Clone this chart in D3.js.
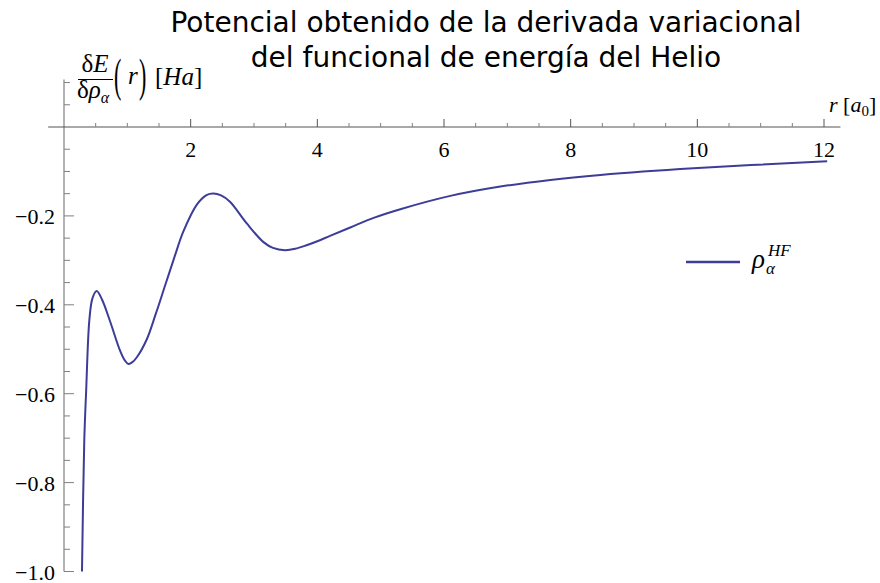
<!DOCTYPE html>
<html>
<head>
<meta charset="utf-8">
<script src="https://cdn.jsdelivr.net/npm/d3@7"></script>
<style>
  body { margin: 0; background: #fff; }
  svg { display: block; }
  .tick-label { font-family: "Liberation Serif", "DejaVu Serif", serif; font-size: 22px; fill: #000; }
  .math { font-family: "Liberation Serif", serif; font-style: italic; fill: #000; }
</style>
</head>
<body>
<svg id="chart" width="880" height="583"></svg>
<script>
// curve: r in Bohr radii, potential in Hartree
var radius = [0.284, 0.32, 0.35, 0.40, 0.45, 0.516, 0.60, 0.727, 0.885, 0.96, 1.016, 1.08, 1.15, 1.306,
  1.45, 1.60, 1.75, 1.885, 2.10, 2.25, 2.36, 2.48, 2.62, 2.886, 3.15, 3.30, 3.49, 3.65, 3.83,
  4.00, 4.20, 4.52, 4.90, 5.31, 6.10, 6.89, 7.68, 8.47, 9.94, 12.05];
var potential = [-1.0, -0.706, -0.593, -0.435, -0.385, -0.369, -0.388, -0.437, -0.503, -0.525, -0.533,
  -0.529, -0.518, -0.478, -0.42, -0.355, -0.29, -0.235, -0.174, -0.153, -0.1495, -0.154, -0.168, -0.217,
  -0.259, -0.272, -0.277, -0.274, -0.266, -0.257, -0.245, -0.226, -0.204, -0.185, -0.155, -0.134,
  -0.119, -0.108, -0.093, -0.077];
var xTicks = [2, 4, 6, 8, 10, 12];
var yTicks = [-0.2, -0.4, -0.6, -0.8, -1.0];
var titleLines = ["Potencial obtenido de la derivada variacional", "del funcional de energía del Helio"];

var blue = "#3d3d99", axisGray = "#808080";

var svg = d3.select("#chart");

var x = d3.scaleLinear().domain([0, 12]).range([64, 824]);
var y = d3.scaleLinear().domain([0, -1]).range([127, 571.5]);

// y axis line and ticks (pointing right)
svg.append("line")
  .attr("x1", x(0)).attr("x2", x(0))
  .attr("y1", y(0.107)).attr("y2", y(-1.0))
  .attr("stroke", axisGray).attr("stroke-width", 1.2);

var yMinor = d3.range(-20, 3).map(function (i) { return i * 0.05; })
  .filter(function (v) { return Math.abs(Math.round(v * 5) - v * 5) > 1e-6; });

svg.selectAll(".ymin").data(yMinor).enter().append("line")
  .attr("x1", x(0)).attr("x2", x(0) + 6)
  .attr("y1", function (d) { return y(d); }).attr("y2", function (d) { return y(d); })
  .attr("stroke", axisGray);

svg.selectAll(".ymaj").data(yTicks).enter().append("line")
  .attr("x1", x(0)).attr("x2", x(0) + 10)
  .attr("y1", function (d) { return y(d); }).attr("y2", function (d) { return y(d); })
  .attr("stroke", axisGray);

svg.selectAll(".ylab").data(yTicks).enter().append("text")
  .attr("class", "tick-label")
  .attr("x", x(0) - 9).attr("y", function (d) { return y(d) + 8; })
  .attr("text-anchor", "end")
  .text(function (d) { return "\u2212" + Math.abs(d).toFixed(1); });

// x axis line and ticks (pointing up)
svg.append("line")
  .attr("x1", x(-0.25)).attr("x2", x(12.26))
  .attr("y1", y(0)).attr("y2", y(0))
  .attr("stroke", "#555").attr("stroke-width", 1.2);

var xMinor = d3.range(1, 25).map(function (i) { return i * 0.5; })
  .filter(function (v) { return v % 2 !== 0; });

svg.selectAll(".xmin").data(xMinor).enter().append("line")
  .attr("x1", function (d) { return x(d); }).attr("x2", function (d) { return x(d); })
  .attr("y1", y(0)).attr("y2", y(0) - 4)
  .attr("stroke", axisGray);

svg.selectAll(".xmaj").data(xTicks).enter().append("line")
  .attr("x1", function (d) { return x(d); }).attr("x2", function (d) { return x(d); })
  .attr("y1", y(0)).attr("y2", y(0) - 8)
  .attr("stroke", "#555");

svg.selectAll(".xlab").data(xTicks).enter().append("text")
  .attr("class", "tick-label")
  .attr("x", function (d) { return x(d); }).attr("y", y(0) + 30)
  .attr("text-anchor", "middle")
  .text(function (d) { return d; });

// the curve
var pts = radius.map(function (r, i) { return [r, potential[i]]; });
var line = d3.line()
  .x(function (d) { return x(d[0]); })
  .y(function (d) { return y(d[1]); })
  .curve(d3.curveCatmullRom.alpha(0.5));

svg.append("path")
  .datum(pts)
  .attr("d", line)
  .attr("fill", "none")
  .attr("stroke", blue)
  .attr("stroke-width", 2);

// title
svg.append("text")
  .attr("x", 486).attr("y", 32)
  .attr("text-anchor", "middle")
  .style("font-family", "DejaVu Sans, sans-serif")
  .style("font-size", "28px")
  .selectAll("tspan").data(titleLines).enter().append("tspan")
    .attr("x", 486)
    .attr("dy", function (d, i) { return i ? 35 : 0; })
    .text(function (d) { return d; });

// y axis label: dE / d rho_alpha (r) [Ha]
var yl = svg.append("g").attr("class", "math").style("font-size", "25px");
yl.append("text").attr("x", 95).attr("y", 72).attr("text-anchor", "middle")
  .style("font-style", "normal").text("δ")
  .append("tspan").style("font-style", "italic").text("E");
yl.append("line").attr("x1", 78).attr("x2", 113).attr("y1", 79.5).attr("y2", 79.5)
  .attr("stroke", "#000").attr("stroke-width", 1);
var den = yl.append("text").attr("x", 77).attr("y", 98);
den.append("tspan").style("font-style", "normal").text("δ");
den.append("tspan").text("ρ");
den.append("tspan").attr("dy", 5).style("font-size", "16px").text("α");
yl.append("text").attr("transform", "translate(114,91) scale(1,2.1)")
  .style("font-style", "normal").style("font-size", "22px").text("(");
yl.append("text").attr("x", 128).attr("y", 84).text("r");
yl.append("text").attr("transform", "translate(139,91) scale(1,2.1)")
  .style("font-style", "normal").style("font-size", "22px").text(")");
var ha = yl.append("text").attr("x", 155).attr("y", 85);
ha.append("tspan").style("font-style", "normal").text("[");
ha.append("tspan").text("Ha");
ha.append("tspan").style("font-style", "normal").text("]");

// x axis label r [a0]
var xl = svg.append("text").attr("class", "math").attr("x", 829).attr("y", 112)
  .style("font-size", "22px");
xl.append("tspan").text("r");
xl.append("tspan").style("font-style", "normal").text(" [");
xl.append("tspan").text("a");
xl.append("tspan").attr("dy", 4).style("font-style", "normal").style("font-size", "15px").text("0");
xl.append("tspan").attr("dy", -4).style("font-style", "normal").text("]");

// legend
svg.append("line").attr("x1", 686).attr("x2", 740).attr("y1", 262).attr("y2", 262)
  .attr("stroke", blue).attr("stroke-width", 2.5);
svg.append("text").attr("class", "math").attr("x", 752).attr("y", 268)
  .style("font-size", "27px").text("ρ");
svg.append("text").attr("class", "math").attr("x", 766).attr("y", 274)
  .style("font-size", "17px").text("α");
svg.append("text").attr("class", "math").attr("x", 768).attr("y", 256)
  .style("font-size", "17px").text("HF");
</script>
</body>
</html>
